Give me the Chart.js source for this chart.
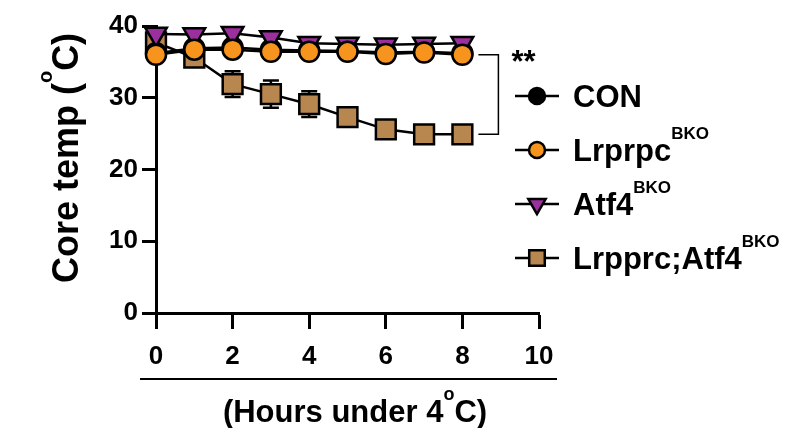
<!DOCTYPE html>
<html>
<head>
<meta charset="utf-8">
<script src="https://cdn.jsdelivr.net/npm/chart.js@4.4.1/dist/chart.umd.min.js"></script>
<style>
  body { margin: 0; background: #fff; }
  canvas { display: block; }
</style>
</head>
<body>
<canvas id="chart" width="791" height="428"></canvas>
<script>
const hours = [0, 1, 2, 3, 4, 5, 6, 7, 8];
const conTemp = [36.2, 36.9, 37.0, 36.7, 36.6, 36.5, 36.3, 36.4, 36.2];
const lrprpcTemp = [36.0, 36.7, 36.7, 36.4, 36.4, 36.4, 36.1, 36.3, 36.0];
const atf4Temp = [38.9, 38.8, 39.0, 38.4, 37.6, 37.5, 37.4, 37.5, 37.6];
const doubleTemp = [37.7, 35.6, 31.9, 30.5, 29.1, 27.3, 25.6, 24.9, 24.9];
const doubleSem = [0.6, 0.8, 1.8, 1.9, 1.8, 0.9, 0.7, 0.6, 0.6];

const legendNames = ["CON", "Lrprpc", "Atf4", "Lrpprc;Atf4"];
const legendSup = ["", "BKO", "BKO", "BKO"];
const yTicks = [0, 10, 20, 30, 40];

const FONT = "'Liberation Sans', Arial, sans-serif";

function points(values) {
  return hours.map((h, i) => ({ x: h, y: values[i] }));
}

const styles = [
  { pointStyle: "circle", color: "#000000", radius: 10, rotation: 0, legendRadius: 8 },
  { pointStyle: "circle", color: "#f7941d", radius: 10, rotation: 0, legendRadius: 8 },
  { pointStyle: "triangle", color: "#9b2f9e", radius: 12.5, rotation: 180, legendRadius: 10 },
  { pointStyle: "rect", color: "#b8864f", radius: 14, rotation: 0, legendRadius: 11 },
];

function makeDataset(label, values, st, order) {
  return {
    label: label,
    data: points(values),
    borderColor: "#000",
    borderWidth: 2.5,
    pointStyle: st.pointStyle,
    pointRotation: st.rotation,
    pointRadius: st.radius,
    pointBackgroundColor: st.color,
    pointBorderColor: "#000",
    pointBorderWidth: 2.5,
    tension: 0,
    fill: false,
    clip: false,
    order: order,
  };
}

// draws a run of text pieces, some of them raised as superscripts
function drawSupText(ctx, parts, x, y, align) {
  let total = 0;
  for (const p of parts) {
    ctx.font = p[2];
    total += ctx.measureText(p[0]).width;
  }
  let cx = align === "center" ? x - total / 2 : x;
  ctx.textAlign = "left";
  ctx.textBaseline = "alphabetic";
  for (const p of parts) {
    ctx.font = p[2];
    ctx.fillText(p[0], cx, y + (p[1] ? p[3] : 0));
    cx += ctx.measureText(p[0]).width;
  }
}

const errorBars = {
  id: "errorBars",
  beforeDatasetDraw(chart, args) {
    if (args.index !== 3) return;
    const ctx = chart.ctx;
    const xs = chart.scales.x;
    const ys = chart.scales.y;
    ctx.save();
    ctx.strokeStyle = "#000";
    ctx.lineWidth = 2.5;
    hours.forEach((h, i) => {
      const px = xs.getPixelForValue(h);
      const top = ys.getPixelForValue(doubleTemp[i] + doubleSem[i]);
      const bot = ys.getPixelForValue(doubleTemp[i] - doubleSem[i]);
      ctx.beginPath();
      ctx.moveTo(px, top);
      ctx.lineTo(px, bot);
      ctx.moveTo(px - 8, top);
      ctx.lineTo(px + 8, top);
      ctx.moveTo(px - 8, bot);
      ctx.lineTo(px + 8, bot);
      ctx.stroke();
    });
    ctx.restore();
  },
};

const decorations = {
  id: "decorations",
  afterDraw(chart) {
    const ctx = chart.ctx;
    const xs = chart.scales.x;
    const ys = chart.scales.y;
    const area = chart.chartArea;
    ctx.save();
    ctx.fillStyle = "#000";
    ctx.strokeStyle = "#000";

    // significance bracket between Lrprpc and double KO at the last time point
    const last = hours.length - 1;
    const bx0 = xs.getPixelForValue(hours[last]) + 16;
    const bx1 = bx0 + 20;
    const by0 = ys.getPixelForValue(lrprpcTemp[last]);
    const by1 = ys.getPixelForValue(doubleTemp[last]);
    ctx.lineWidth = 1.5;
    ctx.beginPath();
    ctx.moveTo(bx0, by0);
    ctx.lineTo(bx1, by0);
    ctx.lineTo(bx1, by1);
    ctx.lineTo(bx0, by1);
    ctx.stroke();
    ctx.font = "bold 31px " + FONT;
    ctx.textAlign = "left";
    ctx.textBaseline = "top";
    ctx.fillText("**", bx1 + 13, by0 - 7);

    // legend
    const lx = 537;
    legendNames.forEach((name, i) => {
      const base = 107 + i * 54;
      const my = base - 11;
      const st = styles[i];
      ctx.lineWidth = 2.5;
      ctx.strokeStyle = "#000";
      ctx.beginPath();
      ctx.moveTo(lx - 22, my);
      ctx.lineTo(lx + 22, my);
      ctx.stroke();
      ctx.fillStyle = st.color;
      Chart.helpers.drawPoint(ctx, {
        pointStyle: st.pointStyle,
        rotation: st.rotation,
        radius: st.legendRadius,
        borderWidth: 2.5,
      }, lx, my);
      ctx.fillStyle = "#000";
      drawSupText(ctx, [
        [name, false, "bold 31px " + FONT],
        [legendSup[i], true, "bold 17px " + FONT, -22],
      ], 573, base, "left");
    });

    // x-axis title with rule above it
    ctx.lineWidth = 2;
    ctx.beginPath();
    ctx.moveTo(140, 379);
    ctx.lineTo(557, 379);
    ctx.stroke();
    drawSupText(ctx, [
      ["(Hours under 4", false, "bold 31px " + FONT],
      ["o", true, "bold 18px " + FONT, -22],
      ["C)", false, "bold 31px " + FONT],
    ], 355, 422, "center");

    // y-axis title, rotated
    ctx.translate(78, 158);
    ctx.rotate(-Math.PI / 2);
    drawSupText(ctx, [
      ["Core temp (", false, "bold 36px " + FONT],
      ["o", true, "bold 20px " + FONT, -26],
      ["C)", false, "bold 36px " + FONT],
    ], 0, 0, "center");
    ctx.restore();
  },
};

new Chart(document.getElementById("chart"), {
  type: "line",
  data: {
    datasets: [
      makeDataset("CON", conTemp, styles[0], 2),
      makeDataset("Lrprpc BKO", lrprpcTemp, styles[1], 0),
      makeDataset("Atf4 BKO", atf4Temp, styles[2], 1),
      makeDataset("Lrpprc;Atf4 BKO", doubleTemp, styles[3], 3),
    ],
  },
  options: {
    responsive: false,
    animation: false,
    devicePixelRatio: 1,
    layout: { padding: { top: 26, right: 252, left: 0, bottom: 0 } },
    plugins: {
      legend: { display: false },
      tooltip: { enabled: false },
    },
    scales: {
      x: {
        type: "linear",
        min: 0,
        max: 10,
        afterFit: (scale) => { scale.height = 115; },
        ticks: {
          stepSize: 2,
          color: "#000",
          padding: 12,
          font: { family: FONT, size: 26, weight: "bold" },
        },
        grid: {
          drawOnChartArea: false,
          drawTicks: true,
          tickLength: 16,
          tickWidth: 3,
          tickColor: "#000",
        },
        border: { display: true, width: 3, color: "#000" },
      },
      y: {
        min: 0,
        max: 40,
        afterFit: (scale) => { scale.width = 156; },
        afterBuildTicks: (scale) => { scale.ticks = yTicks.map((v) => ({ value: v })); },
        ticks: {
          color: "#000",
          padding: 4,
          font: { family: FONT, size: 26, weight: "bold" },
        },
        grid: {
          drawOnChartArea: false,
          drawTicks: true,
          tickLength: 14,
          tickWidth: 3,
          tickColor: "#000",
        },
        border: { display: true, width: 3, color: "#000" },
      },
    },
  },
  plugins: [errorBars, decorations],
});
</script>
</body>
</html>
